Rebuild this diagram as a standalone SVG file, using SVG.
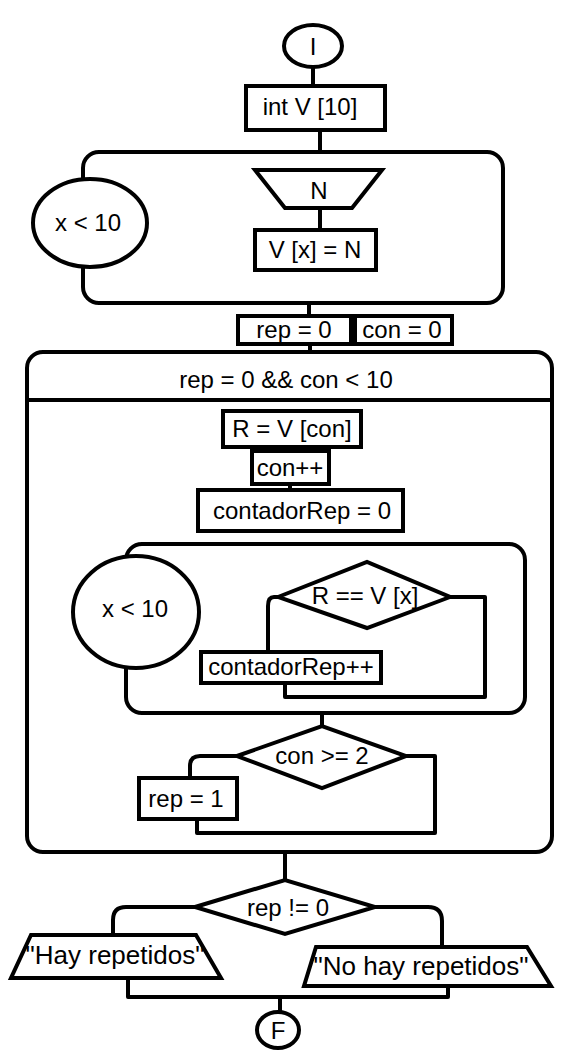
<svg xmlns="http://www.w3.org/2000/svg" width="565" height="1060" viewBox="0 0 565 1060">
<style>
.s{fill:#fff;stroke:#000;stroke-width:4}
.n{fill:none;stroke:#000;stroke-width:4;stroke-linejoin:round}
text{font-family:"Liberation Sans",Arial,sans-serif;font-size:24px;fill:#000;text-anchor:middle;dominant-baseline:central}
.big{font-size:26px}
</style>
<rect width="565" height="1060" fill="#fff"/>
<g id="connectors">
<path class="n" d="M313 68V86"/>
<path class="n" d="M320 130V152"/>
<path class="n" d="M320 208V230"/>
<path class="n" d="M309 304V316"/>
<path class="n" d="M310 344V352"/>
<path class="n" d="M285 447V451"/>
<path class="n" d="M290 484V490"/>
<path class="n" d="M450 597H485V697H285V683"/>
<path class="n" d="M278 597H274Q268 597 268 606V652"/>
<path class="n" d="M322 714V726"/>
<path class="n" d="M406 756H435V833H197V820"/>
<path class="n" d="M237 756H200Q190 756 190 766V778"/>
<path class="n" d="M285 853V880"/>
<path class="n" d="M195 907H126Q113 907 113 920V935"/>
<path class="n" d="M375 907H428Q442 907 442 921V947"/>
<path class="n" d="M128 978V997H448V986"/>
<path class="n" d="M280 997V1013"/>
</g>
<g id="start"><ellipse class="s" cx="313" cy="46" rx="29" ry="21"/><text x="313" y="46">I</text></g>
<g id="declare"><rect class="s" x="246" y="86" width="139" height="44"/><text x="310" y="106">int V [10]</text></g>
<g id="loop1"><rect class="n" x="83" y="152" width="420" height="151" rx="16"/><ellipse class="s" cx="90" cy="223" rx="57" ry="44"/><text x="88" y="222">x &lt; 10</text></g>
<g id="readN"><polygon class="s" points="255,170 382,170 352,208 285,208"/><text x="319" y="190">N</text></g>
<g id="assignV"><rect class="s" x="255" y="230" width="121" height="40"/><text x="315" y="249">V [x] = N</text></g>
<g id="rep0"><rect class="s" x="238" y="316" width="113" height="28"/><text x="294" y="329">rep = 0</text></g>
<g id="con0"><rect class="s" x="355" y="316" width="97" height="28"/><text x="402" y="329">con = 0</text></g>
<g id="loop2"><rect class="n" x="27" y="352" width="525" height="500" rx="16"/><path class="n" d="M27 400H552"/><text x="286" y="379">rep = 0 &amp;&amp; con &lt; 10</text></g>
<g id="assignR"><rect class="s" x="223" y="411" width="138" height="36"/><text x="292" y="428">R = V [con]</text></g>
<g id="conInc"><rect class="s" x="252" y="451" width="77" height="33"/><text x="290" y="467">con++</text></g>
<g id="contador0"><rect class="s" x="198" y="490" width="205" height="41"/><text x="302" y="510">contadorRep = 0</text></g>
<g id="loop3"><rect class="n" x="126" y="544" width="399" height="169" rx="16"/><ellipse class="s" cx="136" cy="612" rx="63" ry="56"/><text x="135" y="608">x &lt; 10</text></g>
<g id="cmpR"><polygon class="s" points="278,597 367,562 450,597 367,628"/><text x="365" y="595">R == V [x]</text></g>
<g id="contadorInc"><rect class="s" x="201" y="652" width="180" height="31"/><text x="291" y="666">contadorRep++</text></g>
<g id="cmpCon"><polygon class="s" points="237,756 322,726 406,756 322,788"/><text x="322" y="755">con &gt;= 2</text></g>
<g id="rep1"><rect class="s" x="139" y="778" width="98" height="41"/><text x="186" y="798">rep = 1</text></g>
<g id="cmpRep"><polygon class="s" points="195,907 285,880 375,907 285,934"/><text x="288" y="907">rep != 0</text></g>
<g id="outHay"><polygon class="s" points="31,935 196,935 221,978 11,978"/><text class="big" x="115" y="955">"Hay repetidos"</text></g>
<g id="outNo"><polygon class="s" points="316,947 527,947 551,986 304,986"/><text class="big" x="421" y="966">"No hay repetidos"</text></g>
<g id="end"><ellipse class="s" cx="278" cy="1030" rx="21" ry="18"/><text x="278" y="1030">F</text></g>
</svg>
